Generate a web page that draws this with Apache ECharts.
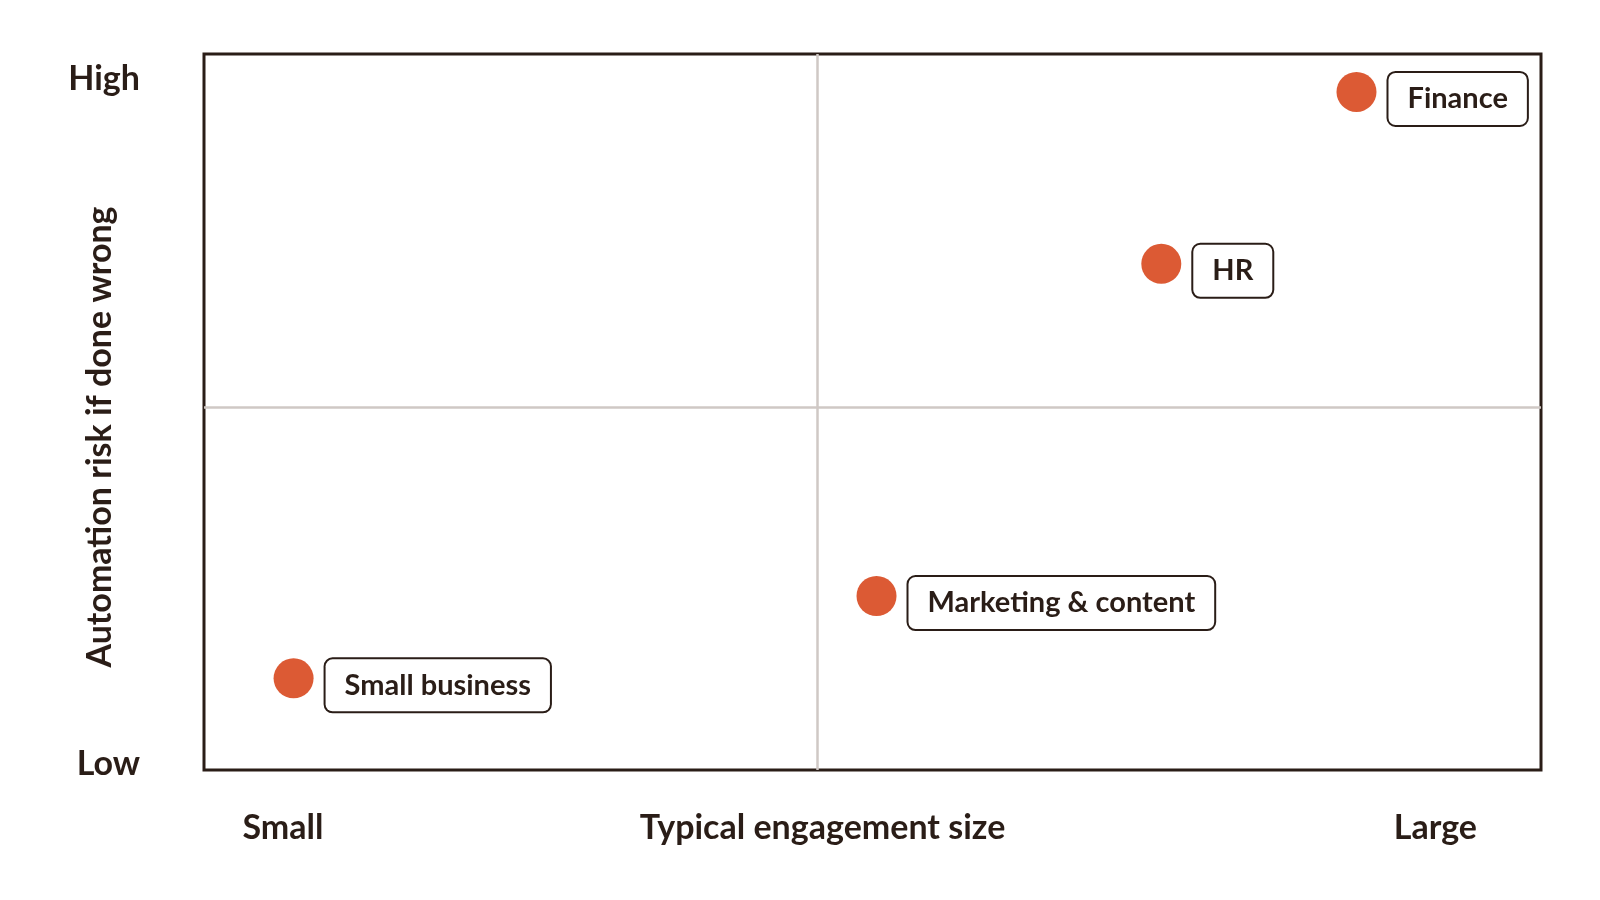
<!DOCTYPE html>
<html>
<head>
<meta charset="utf-8">
<title>Automation risk vs engagement size</title>
<script src="https://cdn.jsdelivr.net/npm/echarts@6/dist/echarts.min.js"></script>
<style>
    html, body { margin: 0; padding: 0; background: #fff; }
    #quadrant { width: 1600px; height: 900px; }
</style>
</head>
<body>
<div id="quadrant"></div>
<script>
    // segments and their position on the 0-100 grid
    var segmentNames = ['Small business', 'Marketing & content', 'HR', 'Finance'];
    var engagementSize = [6.7, 50.3, 71.6, 86.2];
    var automationRisk = [12.8, 24.3, 70.7, 94.7];

    // quadrant dividers
    var xDivider = 45.9;
    var yDivider = 50.7;

    // end labels of the axes
    var xTickValues = [5.9, 92.1];
    var xTickLabels = ['Small', 'Large'];
    var yTickValues = [0.8, 96.5];
    var yTickLabels = ['Low', 'High'];

    var ink = '#2a1d17';
    var font = 'Lato';

    function init_quadrant(){
        var points = [];
        for (var i = 0; i < segmentNames.length; i++) {
            points.push({ name: segmentNames[i], value: [engagementSize[i], automationRisk[i]] });
        }

        var option = {
            animation: false,
            textStyle: { fontFamily: font },
            grid: {
                left: 204, right: 59, top: 54, bottom: 130,
                show: true,
                borderColor: ink,
                borderWidth: 3,
                backgroundColor: '#fff'
            },
            xAxis: {
                type: 'value', min: 0, max: 100,
                splitLine: { show: false },
                axisLine: { show: false },
                axisTick: { show: false },
                axisLabel: {
                    customValues: xTickValues,
                    formatter: function(v){ return xTickLabels[xTickValues.indexOf(v)]; },
                    margin: 41,
                    fontSize: 34, fontWeight: 'bold', color: ink, fontFamily: font
                },
                name: 'Typical engagement size',
                nameLocation: 'middle',
                nameGap: 41,
                nameMoveOverlap: false,
                nameTextStyle: {
                    fontSize: 34, fontWeight: 'bold', color: ink, fontFamily: font,
                    padding: [0, 100, 0, 0]
                }
            },
            yAxis: {
                type: 'value', min: 0, max: 100,
                splitLine: { show: false },
                axisLine: { show: false },
                axisTick: { show: false },
                axisLabel: {
                    customValues: yTickValues,
                    formatter: function(v){ return yTickLabels[yTickValues.indexOf(v)]; },
                    margin: 64,
                    fontSize: 34, fontWeight: 'bold', color: ink, fontFamily: font
                },
                name: 'Automation risk if done wrong',
                nameLocation: 'middle',
                nameGap: 87,
                nameMoveOverlap: false,
                nameTextStyle: {
                    fontSize: 34, fontWeight: 'bold', color: ink, fontFamily: font,
                    padding: [0, 50, 0, 0]
                }
            },
            series: [{
                type: 'scatter',
                data: points,
                symbolSize: 40,
                itemStyle: { color: '#dc5a34', opacity: 1 },
                label: {
                    show: true,
                    position: 'right',
                    distance: 12,
                    offset: [0, 7],
                    formatter: '{b}',
                    fontSize: 29,
                    fontWeight: 'bold',
                    lineHeight: 30,
                    color: ink,
                    fontFamily: font,
                    backgroundColor: '#fff',
                    borderColor: ink,
                    borderWidth: 2,
                    borderRadius: 7,
                    padding: [11, 19]
                },
                markLine: {
                    silent: true,
                    symbol: 'none',
                    label: { show: false },
                    lineStyle: { color: '#cfc8c5', width: 2.5, type: 'solid' },
                    data: [{ xAxis: xDivider }, { yAxis: yDivider }]
                },
                z: 3
            }]
        };

        var myChart = echarts.init(document.getElementById('quadrant'));
        myChart.setOption(option, true);
    }
    init_quadrant();
</script>
</body>
</html>
